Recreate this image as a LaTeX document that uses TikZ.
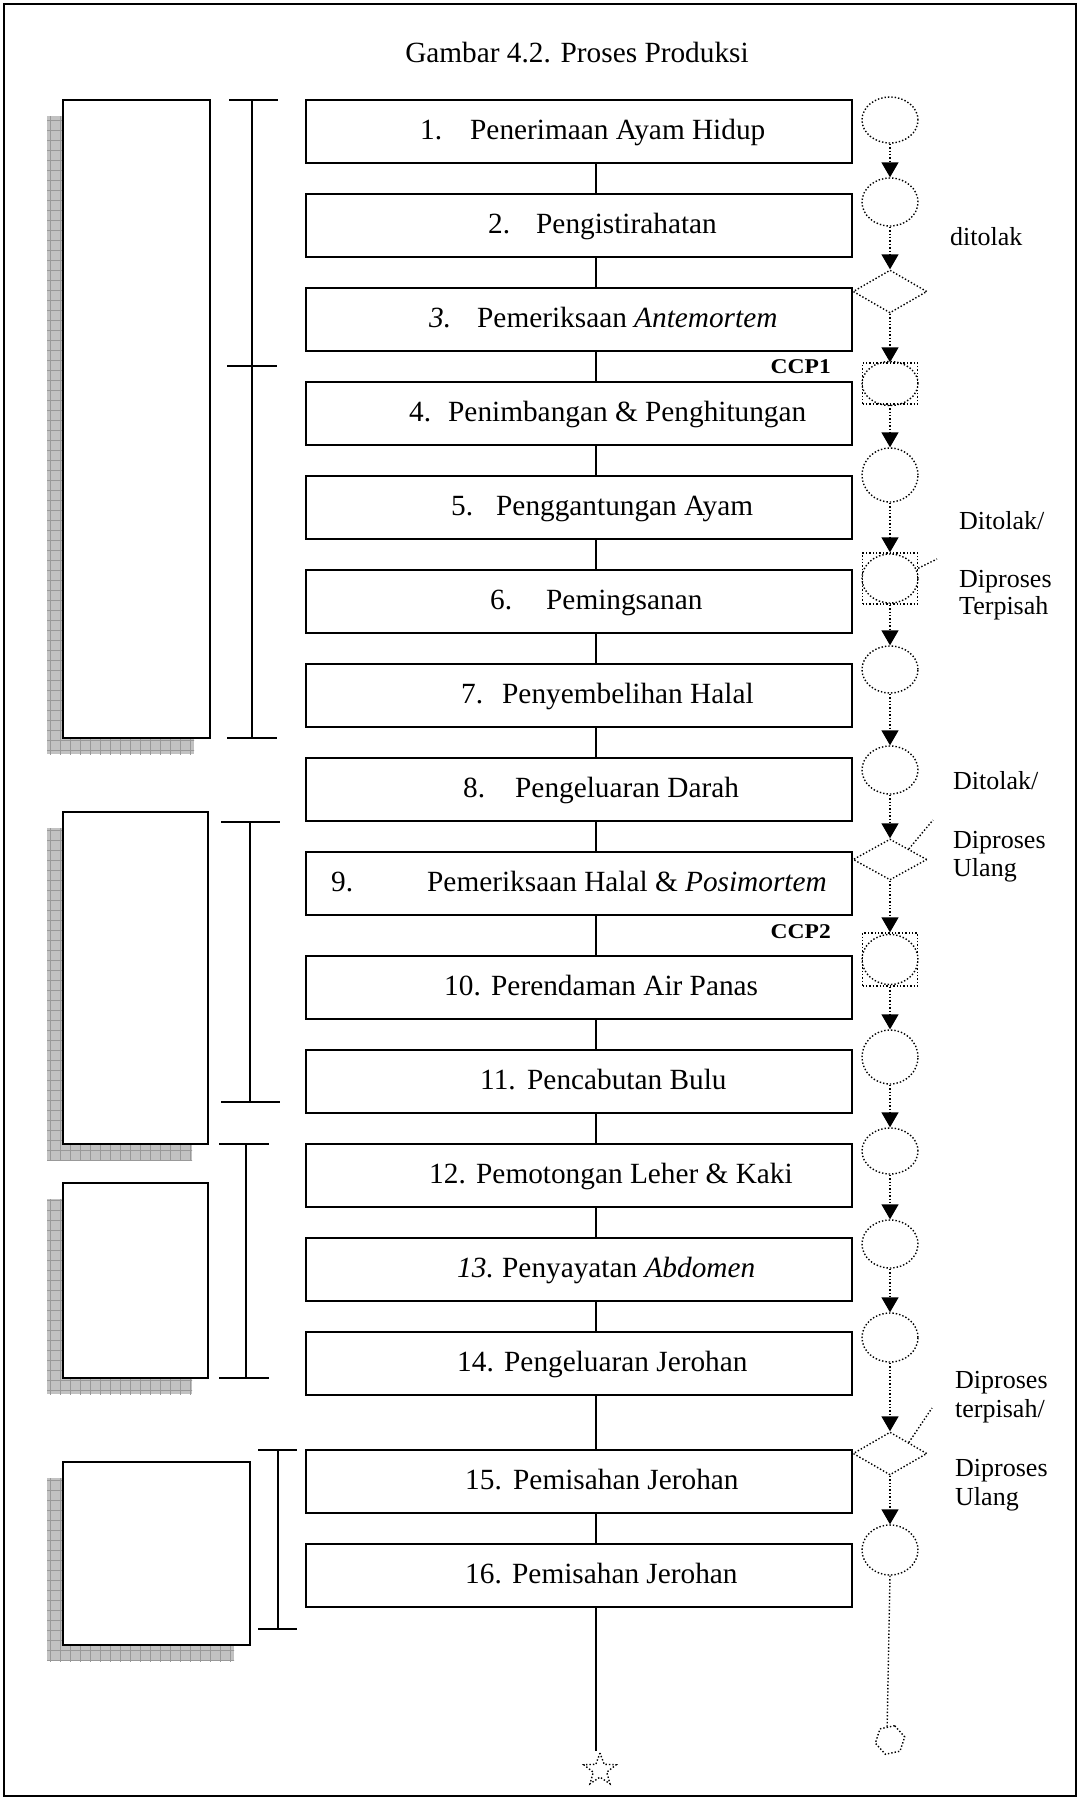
\documentclass[tikz,border=0pt]{standalone}
\usepackage{fontspec}
\setmainfont{Liberation Serif}
\usetikzlibrary{shapes.geometric,arrows.meta,calc}

\tikzset{
  procbox/.style={draw, line width=2pt, rectangle, minimum width=546pt, minimum height=63pt, inner sep=0pt},
  boxtxt/.style={anchor=base west, inner sep=0pt, font=\fontsize{29.3}{35}\selectfont},
  sidetxt/.style={anchor=base west, inner sep=0pt, font=\fontsize{26}{28}\selectfont},
  ccp/.style={anchor=base east, inner sep=0pt, font=\bfseries\fontsize{21}{24}\selectfont},
  spineline/.style={line width=2pt},
  dotshape/.style={draw, dotted, line width=1.4pt, inner sep=0pt},
  chkellipse/.style={dotshape, ellipse, minimum width=56pt, minimum height=#1},
  chksquare/.style={dotshape, rectangle, minimum width=55pt, minimum height=#1},
  chkdiamond/.style={dotshape, diamond, minimum width=74pt, minimum height=#1},
  flowarrow/.style={dotted, line width=1.4pt, -{Triangle[width=17pt,length=15pt]}},
  flowline/.style={dotted, line width=1.4pt},
  groupbox/.style={draw, line width=2pt, fill=white},
  bracket/.style={line width=2pt},
}

% hatched drop shadow of a group box, shifted down-left
\newcommand{\grpshadow}[4]{%
  \begin{scope}
    \clip (#1-16,#2+16) rectangle (#3-16,#4+16);
    \fill[black!24] (#1-16,#2+16) rectangle (#3-16,#4+16);
    \draw[black!40, line width=0.8pt, step=10pt] (#1-20,#2+10) grid (#3,#4+20);
  \end{scope}}

\begin{document}
\begin{tikzpicture}[x=1pt,y=-1pt]
  \useasboundingbox (0,0) rectangle (1080,1800);
  \fill[white] (0,0) rectangle (1080,1800);
  \draw[line width=2.5pt] (4,4) rectangle (1076,1796);

  \node[anchor=base, inner sep=0pt, font=\fontsize{29.3}{35}\selectfont] (title) at (577,62) {Gambar 4.2. Proses Produksi};

  % left group boxes with shadows
  \grpshadow{63}{100}{210}{738}
  \draw[groupbox] (63,100) rectangle (210,738);
  \grpshadow{63}{812}{208}{1144}
  \draw[groupbox] (63,812) rectangle (208,1144);
  \grpshadow{63}{1183}{208}{1378}
  \draw[groupbox] (63,1183) rectangle (208,1378);
  \grpshadow{63}{1462}{250}{1645}
  \draw[groupbox] (63,1462) rectangle (250,1645);

  % brackets
  \draw[bracket] (252,100) -- (252,738);
  \draw[bracket] (229,100) -- (278,100);
  \draw[bracket] (227,366) -- (277,366);
  \draw[bracket] (227,738) -- (277,738);
  \draw[bracket] (250,822) -- (250,1102);
  \draw[bracket] (221,822) -- (280,822);
  \draw[bracket] (221,1102) -- (280,1102);
  \draw[bracket] (246,1144) -- (246,1378);
  \draw[bracket] (219,1144) -- (269,1144);
  \draw[bracket] (219,1378) -- (269,1378);
  \draw[bracket] (278,1450) -- (278,1629);
  \draw[bracket] (258,1450) -- (297,1450);
  \draw[bracket] (258,1629) -- (297,1629);

  % process boxes
  \node[procbox] (b1)  at (579,131.5) {};
  \node[procbox] (b2)  at (579,225.5) {};
  \node[procbox] (b3)  at (579,319.5) {};
  \node[procbox] (b4)  at (579,413.5) {};
  \node[procbox] (b5)  at (579,507.5) {};
  \node[procbox] (b6)  at (579,601.5) {};
  \node[procbox] (b7)  at (579,695.5) {};
  \node[procbox] (b8)  at (579,789.5) {};
  \node[procbox] (b9)  at (579,883.5) {};
  \node[procbox] (b10) at (579,987.5) {};
  \node[procbox] (b11) at (579,1081.5) {};
  \node[procbox] (b12) at (579,1175.5) {};
  \node[procbox] (b13) at (579,1269.5) {};
  \node[procbox] (b14) at (579,1363.5) {};
  \node[procbox] (b15) at (579,1481.5) {};
  \node[procbox] (b16) at (579,1575.5) {};

  % box labels
  \node[boxtxt] (n1)  at (420,139.5)  {1.};   \node[boxtxt] (t1)  at (470,139.5)  {Penerimaan Ayam Hidup};
  \node[boxtxt] (n2)  at (488,233.5)  {2.};   \node[boxtxt] (t2)  at (536,233.5)  {Pengistirahatan};
  \node[boxtxt] (n3)  at (429,327.5)  {\itshape 3.}; \node[boxtxt] (t3) at (477,327.5) {Pemeriksaan \textit{Antemortem}};
  \node[boxtxt] (n4)  at (409,421.5)  {4.};   \node[boxtxt] (t4)  at (448,421.5)  {Penimbangan \& Penghitungan};
  \node[boxtxt] (n5)  at (451,515.5)  {5.};   \node[boxtxt] (t5)  at (496,515.5)  {Penggantungan Ayam};
  \node[boxtxt] (n6)  at (490,609.5)  {6.};   \node[boxtxt] (t6)  at (546,609.5)  {Pemingsanan};
  \node[boxtxt] (n7)  at (461,703.5)  {7.};   \node[boxtxt] (t7)  at (502,703.5)  {Penyembelihan Halal};
  \node[boxtxt] (n8)  at (463,797.5)  {8.};   \node[boxtxt] (t8)  at (515,797.5)  {Pengeluaran Darah};
  \node[boxtxt] (n9)  at (331,891.5)  {9.};   \node[boxtxt] (t9)  at (427,891.5)  {Pemeriksaan Halal \& \textit{Posimortem}};
  \node[boxtxt] (n10) at (444,995.5)  {10.};  \node[boxtxt] (t10) at (491,995.5)  {Perendaman Air Panas};
  \node[boxtxt] (n11) at (480,1089.5) {11.};  \node[boxtxt] (t11) at (527,1089.5) {Pencabutan Bulu};
  \node[boxtxt] (n12) at (429,1183.5) {12.};  \node[boxtxt] (t12) at (476,1183.5) {Pemotongan Leher \& Kaki};
  \node[boxtxt] (n13) at (457,1277.5) {\itshape 13.}; \node[boxtxt] (t13) at (502,1277.5) {Penyayatan \textit{Abdomen}};
  \node[boxtxt] (n14) at (457,1371.5) {14.};  \node[boxtxt] (t14) at (504,1371.5) {Pengeluaran Jerohan};
  \node[boxtxt] (n15) at (465,1489.5) {15.};  \node[boxtxt] (t15) at (513,1489.5) {Pemisahan Jerohan};
  \node[boxtxt] (n16) at (465,1583.5) {16.};  \node[boxtxt] (t16) at (512,1583.5) {Pemisahan Jerohan};

  % critical control point tags
  \node[ccp] (ccp1) at (831,373) {\scalebox{1.12}[1]{CCP1}};
  \node[ccp] (ccp2) at (831,938) {\scalebox{1.12}[1]{CCP2}};

  % main spine
  \coordinate (spine) at (596,0);
  \node[dotshape, star, star points=5, star point ratio=2.4, minimum size=34pt] (endstar) at (600,1770) {};
  \foreach \a/\b in {b1/b2,b2/b3,b3/b4,b4/b5,b5/b6,b6/b7,b7/b8,b8/b9,b9/b10,b10/b11,b11/b12,b12/b13,b13/b14,b14/b15,b15/b16}
    \draw[spineline] (\a.south -| spine) -- (\b.north -| spine);
  \draw[spineline] (b16.south -| spine) -- (endstar.north -| spine);

  % check column
  \node[chkellipse=46pt] (r1) at (890,120) {};
  \node[chkellipse=48pt] (r2) at (890,202) {};
  \node[chkdiamond=43pt] (r3) at (890,291.5) {};
  \node[chksquare=41pt] (r4) at (890,383.5) {};
  \node[chkellipse=44pt] (r4c) at (890,383.5) {};
  \node[chkellipse=54pt] (r5) at (890,475) {};
  \node[chksquare=51pt] (r6) at (890,578.5) {};
  \node[chkellipse=49pt] (r6c) at (890,578.5) {};
  \node[chkellipse=47pt] (r7) at (890,669.5) {};
  \node[chkellipse=48pt] (r8) at (890,770) {};
  \node[chkdiamond=41pt] (r9) at (890,859.5) {};
  \node[chksquare=53pt] (r10) at (890,959.5) {};
  \node[chkellipse=50pt] (r10c) at (890,959.5) {};
  \node[chkellipse=54pt] (r11) at (890,1057) {};
  \node[chkellipse=46pt] (r12) at (890,1151) {};
  \node[chkellipse=48pt] (r13) at (890,1244) {};
  \node[chkellipse=49pt] (r14) at (890,1337.5) {};
  \node[chkdiamond=43pt] (r15) at (890,1453.5) {};
  \node[chkellipse=50pt] (r16) at (890,1550) {};
  \node[dotshape, regular polygon, regular polygon sides=6, minimum size=30pt, rotate=12] (endhex) at (890,1740) {};

  \foreach \a/\b in {r1/r2,r2/r3,r3/r4,r4/r5,r5/r6,r6/r7,r7/r8,r8/r9,r9/r10,r10/r11,r11/r12,r12/r13,r13/r14,r14/r15,r15/r16}
    \draw[flowarrow] (\a.south) -- (\b.north);
  \draw[flowline] (r16.south) -- (endhex.north);

  % rejection leaders
  \coordinate (k6) at (937,559);
  \coordinate (k9) at (933,820);
  \coordinate (k15) at (932,1408);
  \draw[flowline] (r6.20) -- (k6);
  \draw[flowline] (r9.north east) -- (k9);
  \draw[flowline] (r15.north east) -- (k15);

  % side notes
  \node[sidetxt] (s1) at (950,245) {ditolak};
  \node[sidetxt] (s2) at (959,529) {Ditolak/};
  \node[sidetxt] (s3) at (959,587) {Diproses};
  \node[sidetxt] (s4) at (959,614) {Terpisah};
  \node[sidetxt] (s5) at (953,789) {Ditolak/};
  \node[sidetxt] (s6) at (953,848) {Diproses};
  \node[sidetxt] (s7) at (953,876) {Ulang};
  \node[sidetxt] (s8) at (955,1388) {Diproses};
  \node[sidetxt] (s9) at (955,1417) {terpisah/};
  \node[sidetxt] (s10) at (955,1476) {Diproses};
  \node[sidetxt] (s11) at (955,1505) {Ulang};
\end{tikzpicture}
\end{document}
